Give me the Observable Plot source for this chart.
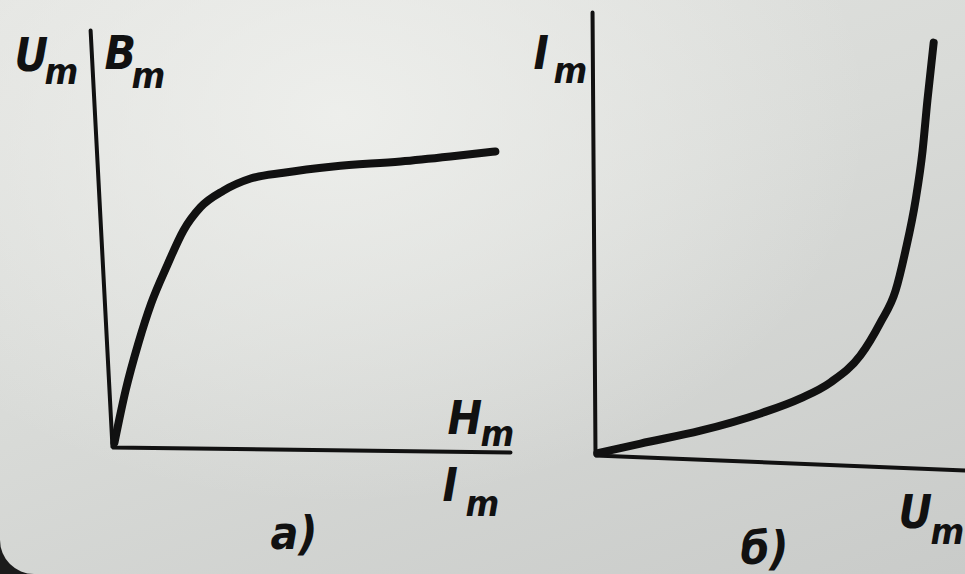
<!DOCTYPE html>
<html>
<head>
<meta charset="utf-8">
<script src="https://cdn.jsdelivr.net/npm/d3@7"></script>
<script src="https://cdn.jsdelivr.net/npm/@observablehq/plot@0.6"></script>
<style>
  html, body { margin: 0; padding: 0; background: #1b1b1b; }
  #sheet {
    position: relative; width: 965px; height: 574px; overflow: hidden;
    border-bottom-left-radius: 34px;
    background:
      radial-gradient(ellipse at 35% 20%, rgba(240,241,238,0.85) 0%, rgba(240,241,238,0) 60%),
      linear-gradient(160deg, #e3e4e1 0%, #d9dbd8 45%, #c9cbc9 100%);
  }
  #sheet svg { position: absolute; top: 0; overflow: visible; background: transparent; }
  #sheet svg text {
    font-family: "DejaVu Sans Condensed", "DejaVu Sans", sans-serif;
    font-style: italic; font-weight: bold; font-stretch: condensed;
  }
</style>
</head>
<body>
<div id="sheet"></div>
<script>
// (а) magnetisation curve B(H), equivalently U(I)
const curveA_H = [0.05, 0.33, 0.65, 0.97, 1.38, 1.78, 2.21, 2.79, 3.47, 4.30, 5.55, 7.24, 8.49, 9.62];
const curveA_B = [0.12, 1.37, 2.50, 3.45, 4.38, 5.20, 5.76, 6.16, 6.45, 6.59, 6.74, 6.86, 6.98, 7.10];
// axis strokes of panel (а): top of ordinate, origin, end of abscissa
const axisA_x = [-0.55, 0, 10];
const axisA_y = [10, 0, -0.12];

// (б) current versus voltage I(U)
const curveB_U = [0.05, 1.22, 2.84, 4.46, 5.54, 6.35, 7.16, 7.70, 8.11, 8.38, 8.65, 8.84, 8.97, 9.14];
const curveB_I = [0.05, 0.27, 0.56, 0.95, 1.29, 1.65, 2.26, 3.00, 3.72, 4.63, 5.76, 6.88, 8.01, 9.32];
const axisB_x = [-0.08, 0, 10];
const axisB_y = [10, 0, -0.34];

// axis labels: letter, subscript
const labelsA = [["U", "m"], ["B", "m"], ["H", "m"], ["I", "m"]];
const labelsB = [["I", "m"], ["U", "m"]];
const captions = ["а)", "б)"];

const ink = "#111";
const FS = 46, FS_SUB = 36;

const zip = (xs, ys) => xs.map((x, i) => ({x, y: ys[i]}));

// a letter with its subscript, placed relative to a corner of the frame
function label([main, sub], anchor, dx, dy, sdx, sdy) {
  return [
    Plot.text([main], {text: d => d, frameAnchor: anchor, dx, dy, textAnchor: "start", lineAnchor: "bottom", fontSize: FS, fill: ink}),
    Plot.text([sub], {text: d => d, frameAnchor: anchor, dx: dx + sdx, dy: dy + sdy, textAnchor: "start", lineAnchor: "bottom", fontSize: FS_SUB, fill: ink})
  ];
}

const common = {
  height: 574,
  x: {domain: [0, 10], axis: null},
  y: {domain: [0, 10], axis: null},
  style: {background: "transparent", overflow: "visible"}
};

const panelA = Plot.plot({
  ...common,
  width: 530,
  marginLeft: 112, marginRight: 20, marginTop: 30, marginBottom: 127,
  marks: [
    Plot.line(zip(axisA_x, axisA_y), {x: "x", y: "y", stroke: ink, strokeWidth: 4, strokeLinejoin: "miter"}),
    Plot.line(zip(curveA_H, curveA_B), {x: "x", y: "y", stroke: ink, strokeWidth: 8, curve: "monotone-x", strokeLinecap: "round"}),
    ...label(labelsA[0], "top-left", -98, 40, 30, 13),
    ...label(labelsA[1], "top-left", -8, 38, 27, 19),
    ...label(labelsA[2], "bottom-right", -63, -14, 33, 12),
    ...label(labelsA[3], "bottom-right", -68, 53, 23, 15),
    Plot.text([captions[0]], {text: d => d, frameAnchor: "bottom-left", dx: 158, dy: 101, textAnchor: "start", lineAnchor: "bottom", fontSize: FS, fill: ink})
  ]
});
panelA.style.left = "0px";

const panelB = Plot.plot({
  ...common,
  width: 445,
  marginLeft: 75, marginRight: 0, marginTop: 12, marginBottom: 119,
  marks: [
    Plot.line(zip(axisB_x, axisB_y), {x: "x", y: "y", stroke: ink, strokeWidth: 4, strokeLinejoin: "miter"}),
    Plot.line(zip(curveB_U, curveB_I), {x: "x", y: "y", stroke: ink, strokeWidth: 8, curve: "monotone-x", strokeLinecap: "round"}),
    ...label(labelsB[0], "top-left", -62, 56, 20, 14),
    ...label(labelsB[1], "bottom-right", -67, 72, 32, 16),
    Plot.text([captions[1]], {text: d => d, frameAnchor: "bottom-left", dx: 145, dy: 108, textAnchor: "start", lineAnchor: "bottom", fontSize: FS, fill: ink})
  ]
});
panelB.style.left = "520px";

const sheet = document.getElementById("sheet");
sheet.append(panelA, panelB);
</script>
</body>
</html>
